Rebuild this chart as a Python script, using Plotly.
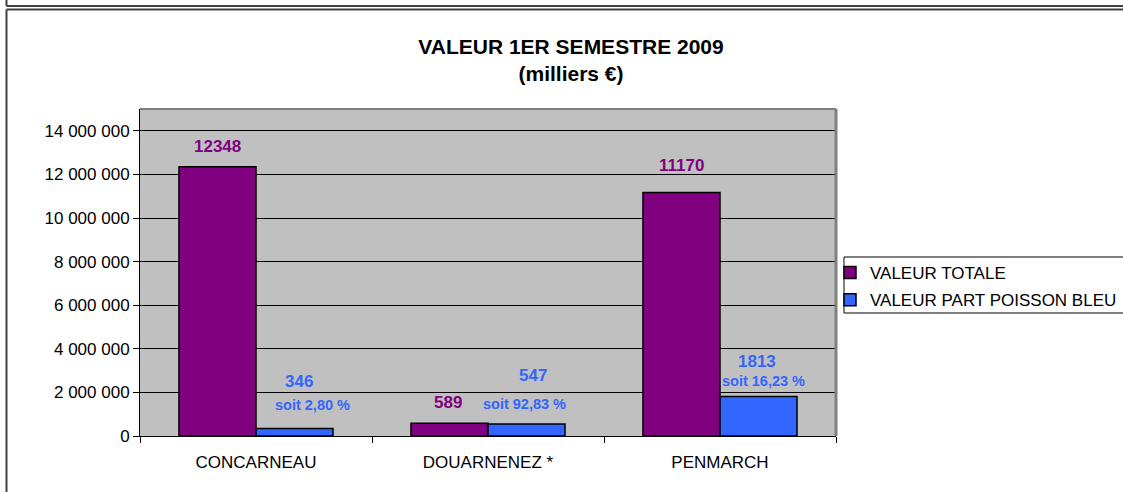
import plotly.graph_objects as go

# ---- data ----
categories = ["CONCARNEAU", "DOUARNENEZ *", "PENMARCH"]
valeur_totale = [12348000, 589000, 11170000]
valeur_bleu = [346000, 547000, 1813000]
part_pct = ["2,80", "92,83", "16,23"]
tick_vals = [0, 2000000, 4000000, 6000000, 8000000, 10000000, 12000000, 14000000]
tick_labels = ["0", "2 000 000", "4 000 000", "6 000 000", "8 000 000",
               "10 000 000", "12 000 000", "14 000 000"]
series_names = ["VALEUR TOTALE", "VALEUR PART POISSON BLEU"]

PURPLE = "#800080"
BLUE = "#3366FF"
FONT = "Arial, Liberation Sans, sans-serif"

W, H = 1123, 492
L, R, T, B = 140, 836, 109, 436   # plot area in pixels


def px_x(p):
    return (p - L) / (R - L)


def px_y(p):
    return (B - p) / (B - T)


fig = go.Figure()
fig.add_trace(go.Bar(x=categories, y=valeur_totale, name=series_names[0],
                     marker=dict(color=PURPLE, line=dict(color="black", width=1.5)),
                     legendgroup="a"))
fig.add_trace(go.Bar(x=categories, y=valeur_bleu, name=series_names[1],
                     marker=dict(color=BLUE, line=dict(color="black", width=1.5)),
                     legendgroup="b"))

# ---- data labels ----
half = 38.5
# label offsets (pixels): (dx, dy)
tot_off = [(0, 20), (-1.5, 21), (0, 27)]
val_off = [(4, 46.5), (6.5, 49), (-1.5, 34.5)]
pct_off = [(18, 23.5), (-2.5, 20), (4.5, 15.5)]
annotations = []
for i, c in enumerate(categories):
    annotations.append(dict(x=c, y=valeur_totale[i], xref="x", yref="y",
                            text="<b>%d</b>" % (valeur_totale[i] // 1000),
                            showarrow=False, xshift=-half + tot_off[i][0],
                            yshift=tot_off[i][1],
                            font=dict(family=FONT, size=17, color=PURPLE)))
    annotations.append(dict(x=c, y=valeur_bleu[i], xref="x", yref="y",
                            text="<b>%d</b>" % (valeur_bleu[i] // 1000),
                            showarrow=False, xshift=half + val_off[i][0],
                            yshift=val_off[i][1],
                            font=dict(family=FONT, size=17, color=BLUE)))
    annotations.append(dict(x=c, y=valeur_bleu[i], xref="x", yref="y",
                            text="<b>soit %s %%</b>" % part_pct[i],
                            showarrow=False, xshift=half + pct_off[i][0],
                            yshift=pct_off[i][1],
                            font=dict(family=FONT, size=14.5, color=BLUE)))

FRAME = "#404040"
shapes = [
    # outer frames
    dict(type="line", xref="paper", yref="paper", x0=px_x(6.5), x1=px_x(1130),
         y0=px_y(6), y1=px_y(6), line=dict(color=FRAME, width=2)),
    dict(type="line", xref="paper", yref="paper", x0=px_x(6.5), x1=px_x(6.5),
         y0=px_y(-2), y1=px_y(6), line=dict(color=FRAME, width=2)),
    dict(type="line", xref="paper", yref="paper", x0=px_x(6.5), x1=px_x(1130),
         y0=px_y(9.5), y1=px_y(9.5), line=dict(color=FRAME, width=2)),
    dict(type="line", xref="paper", yref="paper", x0=px_x(6.5), x1=px_x(6.5),
         y0=px_y(9.5), y1=px_y(500), line=dict(color=FRAME, width=2)),
    # plot area top / right border
    dict(type="line", xref="paper", yref="paper", x0=0, x1=1, y0=1, y1=1,
         line=dict(color="#808080", width=2)),
    dict(type="line", xref="paper", yref="paper", x0=1, x1=1, y0=0, y1=1,
         line=dict(color="#808080", width=3)),
    # legend frame
    dict(type="rect", xref="paper", yref="paper", x0=px_x(844), x1=px_x(1140),
         y0=px_y(313), y1=px_y(257), line=dict(color="black", width=1)),
]

fig.update_layout(
    width=W, height=H,
    margin=dict(l=L, r=W - R, t=T, b=H - B, autoexpand=False),
    paper_bgcolor="white",
    plot_bgcolor="#C0C0C0",
    barmode="group",
    bargap=0.336,
    bargroupgap=0,
    font=dict(family=FONT, size=17, color="black"),
    title=dict(text="<b>VALEUR 1ER SEMESTRE 2009<br>(milliers €)</b>",
               x=571 / W, xanchor="center", xref="container",
               y=1 - 53.5 / H, yanchor="middle", yref="container",
               font=dict(family=FONT, size=21, color="black")),
    showlegend=True,
    legend=dict(x=px_x(830), xanchor="left", y=px_y(255), yanchor="top",
                bgcolor="rgba(0,0,0,0)", borderwidth=0,
                font=dict(family=FONT, size=17, color="black"),
                traceorder="grouped", tracegroupgap=2),
    annotations=annotations,
    shapes=shapes,
    xaxis=dict(type="category", range=[-0.5, 2.5], showline=True,
               linecolor="black", linewidth=1, ticks="outside", tickson="boundaries",
               ticklen=6, tickcolor="black", tickwidth=1, showgrid=False,
               ticklabelstandoff=11,
               tickfont=dict(family=FONT, size=17, color="black")),
    yaxis=dict(range=[0, 15000000], tickvals=tick_vals, ticktext=tick_labels,
               showline=True, linecolor="black", linewidth=1, ticks="outside",
               ticklen=6, tickcolor="black", tickwidth=1, showgrid=True,
               gridcolor="black", gridwidth=1, zeroline=False,
               tickfont=dict(family=FONT, size=17, color="black")),
    hovermode=False,
)

fig.write_html("out.html",
               config={"displayModeBar": False},
               post_script="document.body.style.margin='0px';"
                           "document.body.style.overflow='hidden';")
